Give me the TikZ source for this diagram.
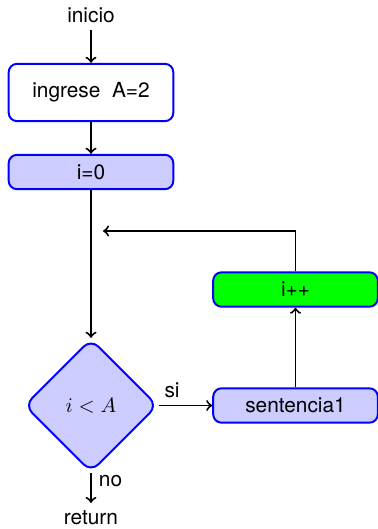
\documentclass[tikz,border=0pt]{standalone}
\usepackage{fontspec}
\setmainfont{TeX Gyre Heros}
\usetikzlibrary{shapes.geometric}

\begin{document}
\begin{tikzpicture}[x=0.48pt,y=-0.48pt,line width=0.95pt]
\tikzstyle{block}=[rectangle,draw=blue,fill=blue!20,rounded corners=4pt,minimum width=79pt,minimum height=16.5pt,inner sep=2pt]
\tikzstyle{io}=[block,fill=white,minimum height=27.5pt]
\tikzstyle{decision}=[diamond,draw=blue,fill=blue!20,rounded corners=5pt,minimum size=64pt,inner sep=0pt,aspect=1]
\useasboundingbox (0,0) rectangle (378,529);
\node (start) at (91,15) {inicio};
\node[io] (input) at (91,92.5) {ingrese~ A=2};
\node[block] (init) at (91,172) {i=0};
\node[decision] (test) at (91,405.5) {$i<A$};
\node[block] (body) at (295.5,405.5) {sentencia1};
\node[block,fill=green] (incr) at (295.5,289.5) {i++};
\node (stop) at (91,518) {return};
\coordinate (back) at (103,231);
\draw[->] (start) -- (input);
\draw[->] (input) -- (init);
\draw[->] (init) -- (test);
\draw[->] (test) -- node[above,near start] {si} (body);
\draw[->] (test) -- node[right,near start] {no} (stop);
\draw[->] (body) -- (incr);
\draw[->] (incr) |- (back);
\end{tikzpicture}
\end{document}
